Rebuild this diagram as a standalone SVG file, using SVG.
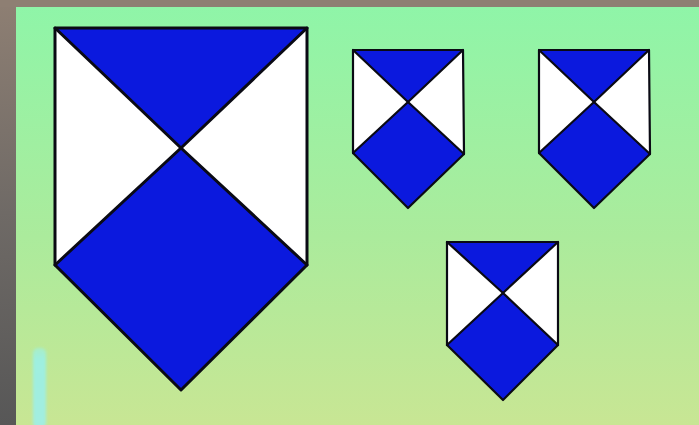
<svg xmlns="http://www.w3.org/2000/svg" width="699" height="425" viewBox="0 0 699 425">
  <defs>
    <linearGradient id="bg" x1="0" y1="0" x2="0" y2="1">
      <stop offset="0" stop-color="#8ff5a8"/>
      <stop offset="0.55" stop-color="#abeb9c"/>
      <stop offset="1" stop-color="#c8e694"/>
    </linearGradient>
    <linearGradient id="edge" x1="0" y1="0" x2="0" y2="1">
      <stop offset="0" stop-color="#8e7f73"/>
      <stop offset="0.5" stop-color="#6f6a66"/>
      <stop offset="1" stop-color="#575757"/>
    </linearGradient>
    <linearGradient id="bar" x1="0" y1="0" x2="0" y2="1">
      <stop offset="0" stop-color="#a8eec8"/>
      <stop offset="0.15" stop-color="#9eefe0"/>
      <stop offset="1" stop-color="#a2ede0"/>
    </linearGradient>
    <filter id="soft" x="-50%" y="-10%" width="200%" height="120%">
      <feGaussianBlur stdDeviation="1.5"/>
    </filter>
  </defs>
  <style>
    .white { fill: #ffffff; }
    .blue { fill: #0b19de; }
    .line { fill: none; stroke: #0a0a14; stroke-linejoin: round; stroke-linecap: round; }
    .big .line { stroke-width: 3; }
    .small .line { stroke-width: 2.2; }
  </style>

  <rect x="0" y="0" width="699" height="425" fill="url(#edge)"/>
  <rect x="0" y="0" width="699" height="7" fill="#8e7f73"/>
  <rect x="16" y="7" width="683" height="418" fill="url(#bg)"/>
  <rect x="33" y="348" width="13" height="80" rx="5" fill="url(#bar)" filter="url(#soft)"/>

  <g id="shield-large" class="big">
    <polygon class="white" points="55,28 307,28 307,265 181,390 55,265"/>
    <polygon class="blue" points="55,28 307,28 181,148"/>
    <polygon class="blue" points="181,148 307,265 181,390 55,265"/>
    <polygon class="line" points="55,28 307,28 307,265 181,390 55,265"/>
    <polyline class="line" points="55,28 181,148 307,265"/>
    <polyline class="line" points="307,28 181,148 55,265"/>
  </g>

  <g id="shield-small-1" class="small">
    <polygon class="white" points="353,50 463,50 464,154 408,208 353,153"/>
    <polygon class="blue" points="353,50 463,50 408,102"/>
    <polygon class="blue" points="408,102 464,154 408,208 353,153"/>
    <polygon class="line" points="353,50 463,50 464,154 408,208 353,153"/>
    <polyline class="line" points="353,50 408,102 464,154"/>
    <polyline class="line" points="463,50 408,102 353,153"/>
  </g>

  <g id="shield-small-2" class="small">
    <polygon class="white" points="539,50 649,50 650,154 594,208 539,153"/>
    <polygon class="blue" points="539,50 649,50 594,102"/>
    <polygon class="blue" points="594,102 650,154 594,208 539,153"/>
    <polygon class="line" points="539,50 649,50 650,154 594,208 539,153"/>
    <polyline class="line" points="539,50 594,102 650,154"/>
    <polyline class="line" points="649,50 594,102 539,153"/>
  </g>

  <g id="shield-small-3" class="small">
    <polygon class="white" points="447,242 558,242 558,345 503,400 447,345"/>
    <polygon class="blue" points="447,242 558,242 503,293"/>
    <polygon class="blue" points="503,293 558,345 503,400 447,345"/>
    <polygon class="line" points="447,242 558,242 558,345 503,400 447,345"/>
    <polyline class="line" points="447,242 503,293 558,345"/>
    <polyline class="line" points="558,242 503,293 447,345"/>
  </g>
</svg>
